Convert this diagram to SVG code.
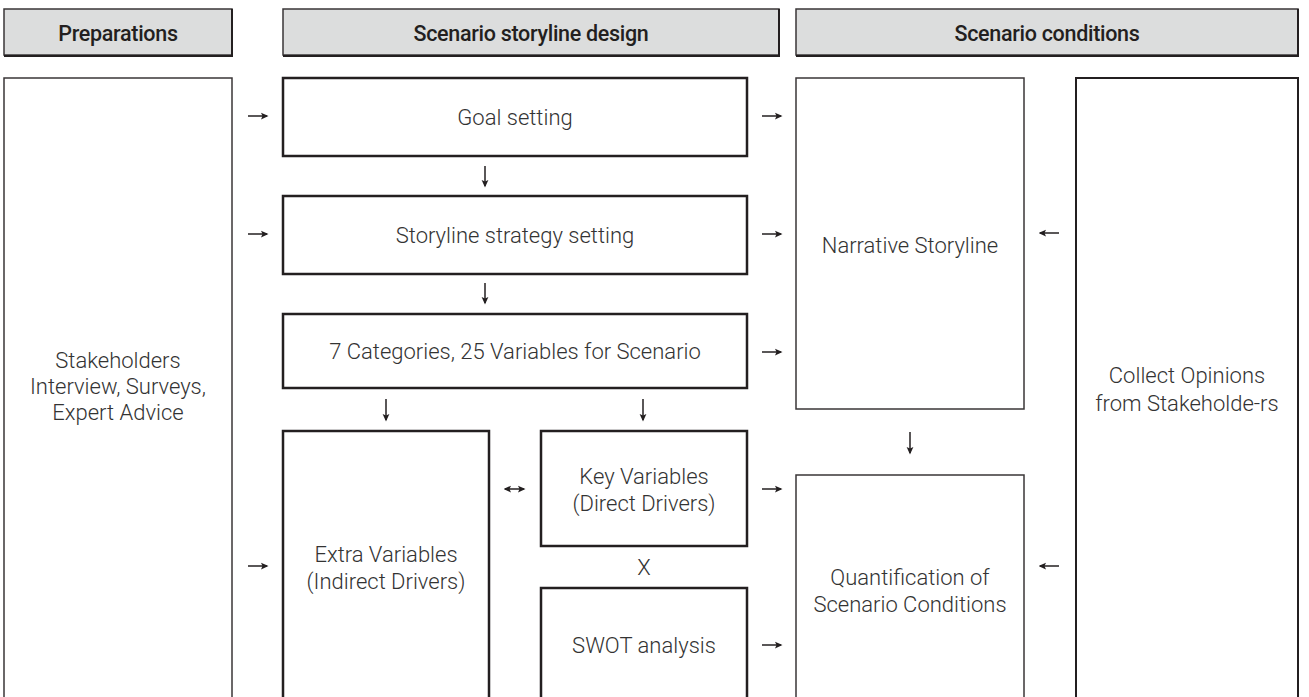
<svg xmlns="http://www.w3.org/2000/svg" width="1309" height="697" viewBox="0 0 1309 697">
<defs>
<marker id="ah" viewBox="0 0 10 10" refX="8" refY="5" markerWidth="5" markerHeight="5" orient="auto-start-reverse">
<path d="M0,0.5 L10,5 L0,9.5 L2,5 Z" fill="#231f20"/>
</marker>
<style>
.hdr{fill:#dcdddd;stroke:#3a3637;stroke-width:1.5}
.sh{fill:none;stroke:#231f20;stroke-width:2}
.box{fill:#fff;stroke:#231f20;stroke-width:2.5}
.thin{fill:#fff;stroke:#3a3637;stroke-width:1.5}
.ht{font-family:Roboto,"Liberation Sans",sans-serif;font-weight:500;font-size:21.5px;fill:#231f20;text-anchor:middle;letter-spacing:-0.3px}
.t{font-family:Roboto,"Liberation Sans",sans-serif;font-weight:300;font-size:22px;fill:#333;text-anchor:middle}
.c{fill:none;stroke:#231f20;stroke-width:1.5}
</style>
</defs>
<rect width="1309" height="697" fill="#fff"/>

<g id="hdr-prep"><rect class="hdr" x="4" y="9" width="228" height="46"/><path class="sh" d="M4,56 H232 V9"/><text class="ht" x="118" y="41">Preparations</text></g>
<g id="hdr-design"><rect class="hdr" x="283" y="9" width="496" height="46"/><path class="sh" d="M283,56 H779 V9"/><text class="ht" x="531" y="41">Scenario storyline design</text></g>
<g id="hdr-cond"><rect class="hdr" x="796" y="9" width="502" height="46"/><path class="sh" d="M796,56 H1298 V9"/><text class="ht" x="1047" y="41">Scenario conditions</text></g>

<g id="n-stake"><rect class="thin" x="4" y="78" width="228" height="640"/><text class="t"><tspan x="118" y="368">Stakeholders</tspan><tspan x="118" y="394">Interview, Surveys,</tspan><tspan x="118" y="420">Expert Advice</tspan></text></g>
<g id="n-goal"><rect class="box" x="283" y="78" width="464" height="78"/><text class="t" x="515" y="125">Goal setting</text></g>
<g id="n-strategy"><rect class="box" x="283" y="196" width="464" height="78"/><text class="t" x="515" y="243">Storyline strategy setting</text></g>
<g id="n-cat"><rect class="box" x="283" y="314" width="464" height="74"/><text class="t" x="515" y="359">7 Categories, 25 Variables for Scenario</text></g>
<g id="n-extra"><rect class="box" x="283" y="431" width="206" height="290"/><text class="t"><tspan x="386" y="562">Extra Variables</tspan><tspan x="386" y="589">(Indirect Drivers)</tspan></text></g>
<g id="n-key"><rect class="box" x="541" y="431" width="206" height="115"/><text class="t"><tspan x="644" y="484">Key Variables</tspan><tspan x="644" y="511">(Direct Drivers)</tspan></text></g>
<g id="n-swot"><rect class="box" x="541" y="588" width="206" height="130"/><text class="t" x="644" y="653">SWOT analysis</text></g>
<g id="n-narr"><rect class="thin" x="796" y="78" width="228" height="331"/><text class="t" x="910" y="253">Narrative Storyline</text></g>
<g id="n-quant"><rect class="thin" x="796" y="475" width="228" height="245"/><text class="t"><tspan x="910" y="585">Quantification of</tspan><tspan x="910" y="612">Scenario Conditions</tspan></text></g>
<g id="n-collect"><rect class="box" x="1076" y="78" width="222" height="640" style="stroke-width:2"/><text class="t"><tspan x="1187" y="383">Collect Opinions</tspan><tspan x="1187" y="411">from Stakeholde-rs</tspan></text></g>

<g id="connectors">
<path class="c" marker-end="url(#ah)" d="M248,116 H267"/>
<path class="c" marker-end="url(#ah)" d="M248,234 H267"/>
<path class="c" marker-end="url(#ah)" d="M248,566 H267"/>
<path class="c" marker-end="url(#ah)" d="M762,116 H781"/>
<path class="c" marker-end="url(#ah)" d="M762,234 H781"/>
<path class="c" marker-end="url(#ah)" d="M762,352 H781"/>
<path class="c" marker-end="url(#ah)" d="M762,489 H781"/>
<path class="c" marker-end="url(#ah)" d="M762,645 H781"/>
<path class="c" marker-end="url(#ah)" d="M485,166 V186"/>
<path class="c" marker-end="url(#ah)" d="M485,283 V303"/>
<path class="c" marker-end="url(#ah)" d="M386,399 V420"/>
<path class="c" marker-end="url(#ah)" d="M643,399 V420"/>
<path class="c" marker-end="url(#ah)" d="M910,432 V453"/>
<path class="c" marker-end="url(#ah)" d="M1059,233 H1040"/>
<path class="c" marker-end="url(#ah)" d="M1059,566 H1040"/>
<path class="c" marker-start="url(#ah)" marker-end="url(#ah)" d="M505,489 H524"/>
<text class="t" x="644" y="575">X</text>
</g>
</svg>
